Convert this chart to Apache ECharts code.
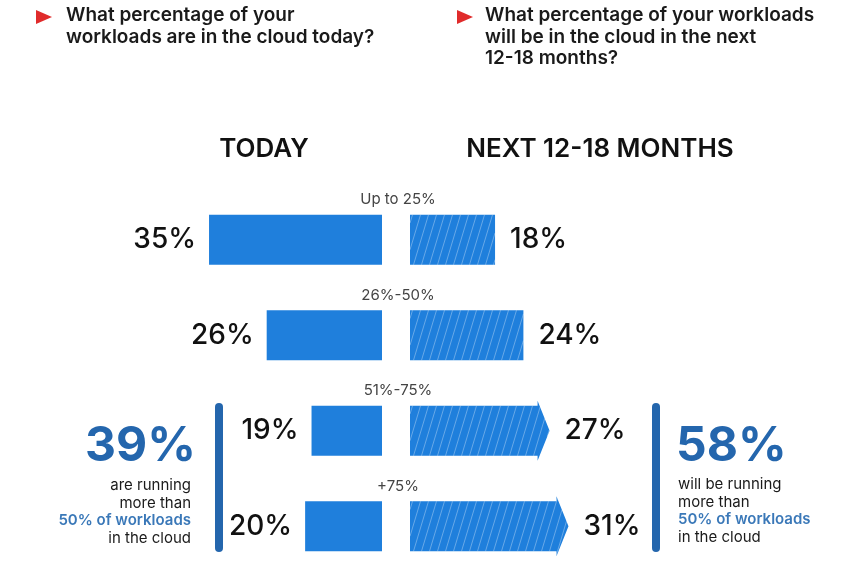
<!DOCTYPE html>
<html lang="en">
<head>
    <meta charset="UTF-8">
    <title>Cloud workloads</title>
    <script src="https://cdn.jsdelivr.net/npm/echarts@6/dist/echarts.min.js"></script>
    <style>
        html, body { margin: 0; padding: 0; background: #fff; }
        #main { width: 859px; height: 585px; }
    </style>
</head>
<body>
    <div id="main"></div>
    <script>
        // data
        const ranges = ['Up to 25%', '26%-50%', '51%-75%', '+75%'];
        const today = [35, 26, 19, 20];
        const next = [18, 24, 27, 31];
        const todayOver50 = 39;
        const nextOver50 = 58;

        const BLUE = '#1f7fdc';
        const DARK_BLUE = '#2466ad';
        const FONT = 'Inter, "Noto Sans", sans-serif';

        const chart = echarts.init(document.getElementById('main'));

        // build half-planes [a,b,c] (a*x+b*y+c<=0 is inside) for a convex polygon
        function halfPlanes(poly) {
            let cx = 0, cy = 0;
            poly.forEach(p => { cx += p[0]; cy += p[1]; });
            cx /= poly.length; cy /= poly.length;
            return poly.map((p, i) => {
                const q = poly[(i + 1) % poly.length];
                let a = q[1] - p[1], b = p[0] - q[0];
                let c = -(a * p[0] + b * p[1]);
                if (a * cx + b * cy + c > 0) { a = -a; b = -b; c = -c; }
                return [a, b, c];
            });
        }

        // clip one hatch line x = x0 + (yBase - y) * k against a convex polygon
        function clipHatch(x0, k, yBase, planes) {
            let ylo = -1e9, yhi = 1e9;
            for (const [a, b, c] of planes) {
                const A = b - a * k;
                const B = a * (x0 + yBase * k) + c;
                if (Math.abs(A) < 1e-9) { if (B > 0) return null; continue; }
                const yy = -B / A;
                if (A > 0) yhi = Math.min(yhi, yy); else ylo = Math.max(ylo, yy);
            }
            if (ylo >= yhi) return null;
            return { x1: x0 + (yBase - ylo) * k, y1: ylo, x2: x0 + (yBase - yhi) * k, y2: yhi };
        }

        function renderNext(params, api) {
            const v = api.value(0), idx = api.value(1);
            const start = api.coord([0, idx]);
            const end = api.coord([v, idx]);
            const h = 50;
            const cy = start[1], top = cy - h / 2, bot = cy + h / 2;
            const L = start[0], E = end[0];
            const arrow = idx >= 2;
            const tipLen = 12, flare = 5;
            const children = [];

            const rect = [[L, top], [E, top], [E, bot], [L, bot]];
            const pieces = [rect];
            let outline = rect;
            if (arrow) {
                pieces.push([[E, top - flare], [E + tipLen, cy], [E, bot + flare]]);
                outline = [[L, top], [E, top], [E, top - flare], [E + tipLen, cy],
                    [E, bot + flare], [E, bot], [L, bot]];
            }
            children.push({
                type: 'polygon',
                shape: { points: outline },
                style: { fill: BLUE }
            });

            // diagonal hatching
            const k = 0.3, step = 8;
            const planes = pieces.map(halfPlanes);
            for (let x0 = L - 30; x0 < E + tipLen + 2; x0 += step) {
                planes.forEach(pl => {
                    const s = clipHatch(x0, k, bot + flare, pl);
                    if (s) {
                        children.push({
                            type: 'line',
                            shape: s,
                            style: { stroke: 'rgba(255,255,255,0.32)', lineWidth: 1 }
                        });
                    }
                });
            }

            const tipX = arrow ? E + tipLen : E;
            children.push({
                type: 'text',
                style: {
                    text: v + '%', x: tipX + 15, y: cy,
                    verticalAlign: 'middle', align: 'left',
                    font: '500 28px ' + FONT, fill: '#111'
                }
            });
            // range label above the row
            children.push({
                type: 'text',
                style: {
                    text: ranges[idx], x: L - 12, y: cy - 40,
                    verticalAlign: 'middle', align: 'center',
                    font: '400 15px ' + FONT, fill: '#444'
                }
            });
            return { type: 'group', children: children };
        }

        function blockText(x, y, align, first) {
            return {
                type: 'text', x: x, y: y,
                style: {
                    text: first + '\nmore than\n{b|50% of workloads}\nin the cloud',
                    align: align,
                    verticalAlign: 'top',
                    font: '400 15px ' + FONT, fill: '#1a1a1a', lineHeight: 17.5,
                    rich: {
                        b: { font: '600 15px ' + FONT, fill: '#3a78b8', lineHeight: 17.5, align: align }
                    }
                }
            };
        }

        const option = {
            backgroundColor: '#ffffff',
            animation: false,
            grid: [
                { left: 177, width: 205, top: 192, height: 382 },
                { left: 410, width: 189, top: 192, height: 382 }
            ],
            xAxis: [
                { gridIndex: 0, type: 'value', inverse: true, min: 8, max: 40, show: false },
                { gridIndex: 1, type: 'value', min: 0, max: 40, show: false }
            ],
            yAxis: [
                { gridIndex: 0, type: 'category', data: ranges, inverse: true, show: false },
                { gridIndex: 1, type: 'category', data: ranges, inverse: true, show: false }
            ],
            graphic: [
                // questions
                { type: 'polygon', shape: { points: [[36, 10], [52, 17], [36, 24]] }, style: { fill: '#e02b2b' } },
                {
                    type: 'text', left: 66, top: 5,
                    style: {
                        text: 'What percentage of your\nworkloads are in the cloud today?',
                        font: '600 19px ' + FONT, fill: '#1a1a1a', lineHeight: 21.5
                    }
                },
                { type: 'polygon', shape: { points: [[457, 10], [473, 17], [457, 24]] }, style: { fill: '#e02b2b' } },
                {
                    type: 'text', left: 485, top: 5,
                    style: {
                        text: 'What percentage of your workloads\nwill be in the cloud in the next\n12-18 months?',
                        font: '600 19px ' + FONT, fill: '#1a1a1a', lineHeight: 21.5
                    }
                },
                // column headers
                {
                    type: 'text', x: 264, y: 149,
                    style: { text: 'TODAY', align: 'center', verticalAlign: 'middle', font: '600 26px ' + FONT, fill: '#111' }
                },
                {
                    type: 'text', x: 600, y: 149,
                    style: { text: 'NEXT 12-18 MONTHS', align: 'center', verticalAlign: 'middle', font: '600 26px ' + FONT, fill: '#111' }
                },
                // summary blocks
                { type: 'rect', shape: { x: 215, y: 403, width: 8, height: 149, r: 4 }, style: { fill: DARK_BLUE } },
                { type: 'rect', shape: { x: 652, y: 403, width: 8, height: 149, r: 4 }, style: { fill: DARK_BLUE } },
                {
                    type: 'text', x: 196, y: 447,
                    style: { text: todayOver50 + '%', align: 'right', verticalAlign: 'middle', font: '700 48px ' + FONT, fill: DARK_BLUE }
                },
                {
                    type: 'text', x: 676, y: 447,
                    style: { text: nextOver50 + '%', align: 'left', verticalAlign: 'middle', font: '700 48px ' + FONT, fill: DARK_BLUE }
                },
                blockText(191, 477, 'right', 'are running'),
                blockText(678, 476, 'left', 'will be running')
            ],
            series: [
                {
                    type: 'bar',
                    xAxisIndex: 0,
                    yAxisIndex: 0,
                    data: today,
                    barWidth: 50,
                    itemStyle: { color: BLUE },
                    label: {
                        show: true,
                        position: 'left',
                        distance: 13,
                        formatter: '{c}%',
                        fontFamily: 'Inter',
                        fontSize: 28,
                        fontWeight: 500,
                        color: '#111'
                    }
                },
                {
                    type: 'custom',
                    xAxisIndex: 1,
                    yAxisIndex: 1,
                    clip: false,
                    data: next.map((v, i) => [v, i]),
                    encode: { x: 0, y: 1 },
                    renderItem: renderNext
                }
            ]
        };

        chart.setOption(option);
    </script>
</body>
</html>
